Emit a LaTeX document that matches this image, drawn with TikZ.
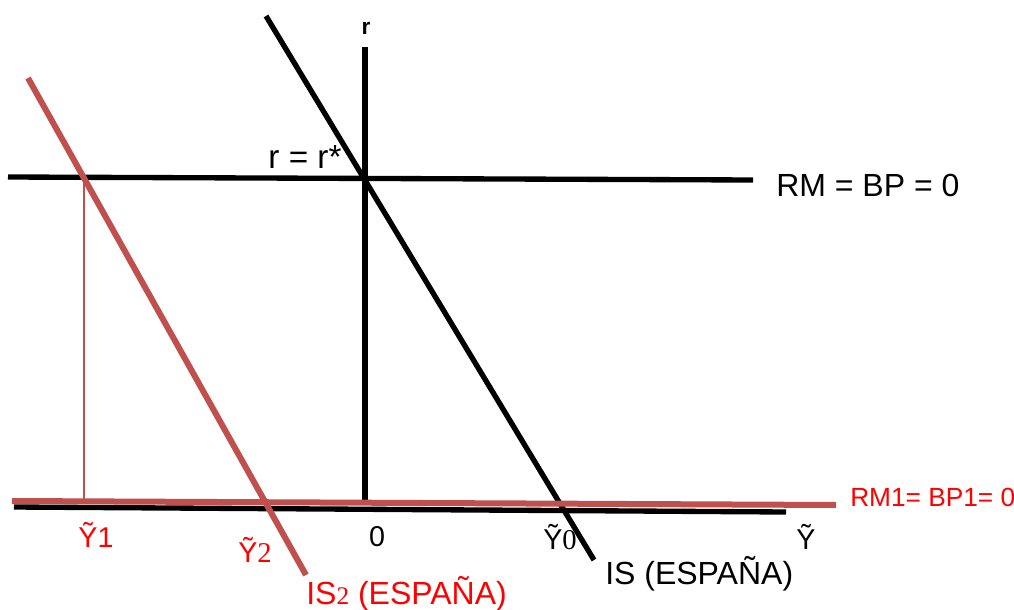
\documentclass[tikz,border=0pt]{standalone}
\usepackage{fontspec}
\setmainfont{Liberation Sans}
\newfontfamily\serifdig{Liberation Serif}
\definecolor{isred}{RGB}{192,80,77}
\definecolor{txtred}{RGB}{255,0,0}
\begin{document}
\begin{tikzpicture}[x=0.75pt,y=-0.75pt,
  axis/.style={line width=4pt,black},
  redline/.style={line width=4.5pt,isred},
  thinred/.style={line width=1pt,isred},
  lbl/.style={inner sep=0pt,font=\fontsize{21.5}{25}\selectfont},
  rlbl/.style={lbl,text=txtred}]
\useasboundingbox (0,0) rectangle (1014,610);
% coordinates
\coordinate (axL) at (14,507);
\coordinate (axR) at (786,512);
\coordinate (vB) at (365,503);
\coordinate (vT) at (365,47);
\coordinate (rmL) at (8,177);
\coordinate (rmR) at (753,180);
\coordinate (isT) at (266,16);
\coordinate (isB) at (594,560);
\coordinate (redL) at (12,501);
\coordinate (redR) at (836,505);
\coordinate (is2T) at (28,78);
\coordinate (is2B) at (306,575);
\coordinate (y1T) at (84,178);
\coordinate (y1B) at (84,503);
% black lines
\draw[axis] (axL) -- (axR);
\draw[axis] (vB) -- (vT);
\draw[axis] (rmL) -- (rmR);
\draw[axis] (isT) -- (isB);
% red lines
\draw[thinred] (y1T) -- (y1B);
\draw[redline] (is2T) -- (is2B);
\draw[redline] (redL) -- (redR);
% labels
\node[inner sep=0pt,font=\fontsize{17}{20}\selectfont\bfseries] (rlab) at (366,28) {r};
\node[lbl,font=\fontsize{25}{28}\selectfont] (rstar) at (305,157) {r = r*};
\node[lbl,font=\fontsize{24}{28}\selectfont,anchor=west] (rmbp) at (776,185) {RM = BP = 0};
\node[rlbl,font=\fontsize{19.7}{23}\selectfont,anchor=west] (rm1) at (850,497) {RM1= BP1= 0};
\node[lbl] (ytil) at (806,537) {Ỹ};
\node[lbl] (y0) at (560,537) {Ỹ{\serifdig 0}};
\node[lbl] (zero) at (377,537) {0};
\node[rlbl] (y1) at (96,535) {Ỹ1};
\node[rlbl] (y2) at (255,550) {Ỹ{\serifdig 2}};
\node[lbl,font=\fontsize{24}{28}\selectfont,anchor=west] (islab) at (605,574) {IS (ESPAÑA)};
\node[rlbl,font=\fontsize{24}{28}\selectfont,anchor=west] (is2lab) at (306,594) {IS{\serifdig\fontsize{19}{22}\selectfont 2} (ESPAÑA)};
\end{tikzpicture}
\end{document}
